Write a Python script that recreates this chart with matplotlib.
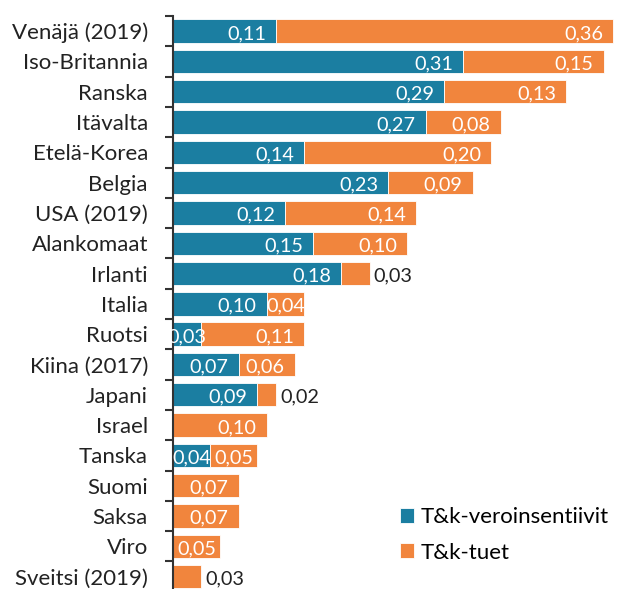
import matplotlib
matplotlib.use("Agg")
import matplotlib.pyplot as plt
import numpy as np

countries = ["Venäjä (2019)", "Iso-Britannia", "Ranska", "Itävalta", "Etelä-Korea",
             "Belgia", "USA (2019)", "Alankomaat", "Irlanti", "Italia", "Ruotsi",
             "Kiina (2017)", "Japani", "Israel", "Tanska", "Suomi", "Saksa", "Viro",
             "Sveitsi (2019)"]
veroinsentiivit = [0.11, 0.31, 0.29, 0.27, 0.14, 0.23, 0.12, 0.15, 0.18, 0.10, 0.03,
                   0.07, 0.09, 0.0, 0.04, 0.0, 0.0, 0.0, 0.0]
tuet = [0.36, 0.15, 0.13, 0.08, 0.20, 0.09, 0.14, 0.10, 0.03, 0.04, 0.11,
        0.06, 0.02, 0.10, 0.05, 0.07, 0.07, 0.05, 0.03]

BLUE = "#1b7ea1"
ORANGE = "#f1853d"
FONT = "Lato"

plt.rcParams["font.family"] = [FONT, "DejaVu Sans"]

fig = plt.figure(figsize=(6.17, 5.89), dpi=100)
W, H = 617, 589
left, top, step = 173, 16, 30.3
n = len(countries)
ax = fig.add_axes([left / W, (H - top - n * step) / H, (W - left) / W, n * step / H])

y = np.arange(n)
h = 0.77
ax.barh(y, veroinsentiivit, height=h, color=BLUE, edgecolor="white", linewidth=0.6,
        label="T&k-veroinsentiivit")
ax.barh(y, tuet, left=veroinsentiivit, height=h, color=ORANGE, edgecolor="white",
        linewidth=0.6, label="T&k-tuet")

px = 1 / 936  # data units per pixel
pad = 10 * px
vsize = 14.3


def fmt(v):
    return f"{v:.2f}".replace(".", ",")


for i in range(n):
    segs = [(0.0, veroinsentiivit[i], False), (veroinsentiivit[i], tuet[i], True)]
    for start, v, is_tuki in segs:
        if v <= 0:
            continue
        end = start + v
        if is_tuki and v < 0.035:
            ax.text(end + 4 * px, i + 0.08, fmt(v), ha="left", va="center",
                    color="#222222", fontsize=vsize)
        elif v <= 0.055:
            ax.text(start + v / 2, i + 0.08, fmt(v), ha="center", va="center",
                    color="white", fontsize=vsize)
        else:
            ax.text(end - pad, i + 0.08, fmt(v), ha="right", va="center",
                    color="white", fontsize=vsize)

ax.set_xlim(0, (W - left) * px)
ax.set_ylim(n - 0.5, -0.5)
ax.set_yticks(y)
ax.set_yticklabels(countries, fontsize=16, color="#222222")
ax.set_yticks(np.arange(n + 1) - 0.5, minor=True)
ax.tick_params(axis="y", which="major", length=0, pad=18)
ax.tick_params(axis="y", which="minor", length=6, width=1.5, color="#333333")
ax.set_xticks([])
for s in ["top", "right", "bottom"]:
    ax.spines[s].set_visible(False)
ax.spines["left"].set_linewidth(1.5)
ax.spines["left"].set_color("#333333")

ax.legend(loc="upper left", bbox_to_anchor=(400 / W, 1 - 507 / H),
          bbox_transform=fig.transFigure, frameon=False, fontsize=16,
          handlelength=0.65, handleheight=0.65, handletextpad=0.3,
          labelspacing=0.7, borderpad=0, borderaxespad=0)

fig.savefig("out.png", dpi=100)
